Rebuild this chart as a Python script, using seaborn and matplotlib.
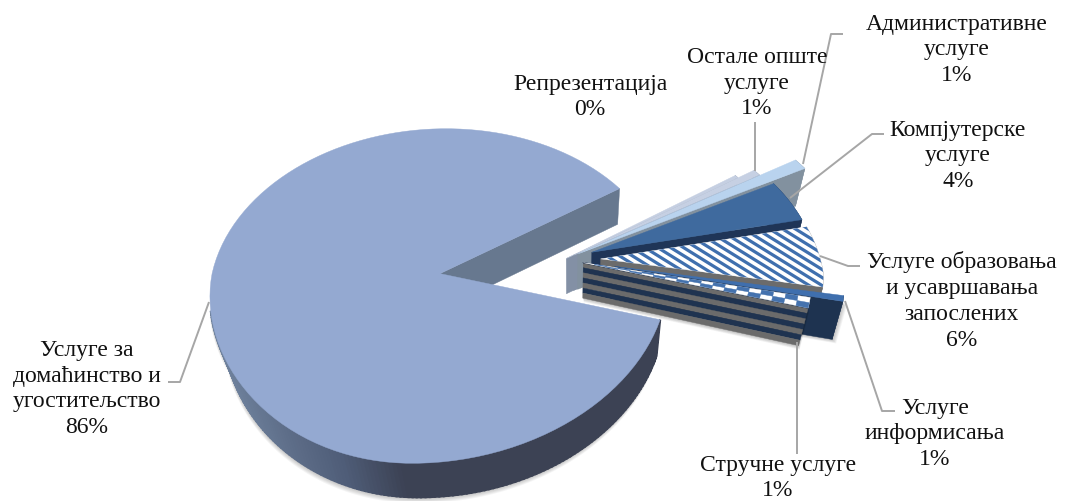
import numpy as np
import matplotlib
matplotlib.use("Agg")
import matplotlib.pyplot as plt
import matplotlib.colors as mc
from matplotlib.patches import Polygon
from matplotlib.collections import LineCollection
import seaborn as sns

# ---- data ----
CATEGORIES = ["Репрезентација", "Остале опште\nуслуге", "Административне\nуслуге",
              "Компјутерске\nуслуге", "Услуге образовања\nи усавршавања\nзапослених",
              "Услуге\nинформисања", "Стручне услуге", "Услуге за\nдомаћинство и\nугоститељство"]
VALUES = [0.3, 0.6, 0.9, 4.2, 6.2, 0.55, 1.0, 86.25]

# ---- style ----
EXPLODE = [0.01, 0.05, 0.07, 0.132, 0.161, 0.225, 0.085, 0.557]
RADIUS_SCALE = [1.0, 1.06, 1.26, 1.0, 0.975, 1.0, 1.0, 1.0]
TOPS = ["#c5cfe2", "#c6d0e3", "#b9d3ee", "#3f6a9e", "#ffffff", "#3f6fae", "#ffffff", "#94a9d1"]
CUTS = ["#8390a5", "#8390a5", "#82919f", "#1f3557", "#6b6b6b", "#1e3350", "#6b6b6b", "#67788f"]
LABEL_POS = [(590, 97), (757, 83), (957, 50), (958, 156), (962, 301), (935, 434), (778, 478), (87, 389)]
LEADERS = [None,
           [(755, 123), (755, 172)],
           [(843, 35), (831, 35), (803, 165)],
           [(884, 135), (872, 135), (790, 199)],
           [(820, 257), (848, 267), (860, 267)],
           [(845, 302), (882, 412), (895, 412)],
           [(797, 343), (797, 455)],
           [(168, 383), (180, 383), (209, 303)]]
X0, Y0, A, B, K = 440.0, 275.0, 228.0, 164.4, 0.134
CENTER = (0.55, 0.09)
DEPTH = 34.0

sns.set_theme(style="white")
plt.rcParams["font.family"] = ["Liberation Serif", "DejaVu Serif"]
fig = plt.figure(figsize=(10.65, 5.02), dpi=100)
ax = fig.add_axes([0, 0, 1, 1])
palette = sns.color_palette(TOPS)

wedges, _ = ax.pie(VALUES, explode=EXPLODE, startangle=33.8, counterclock=False,
                   center=CENTER, radius=1.0)
geometry = [(w.center, w.theta1, w.theta2, w.r * s) for w, s in zip(wedges, RADIUS_SCALE)]
for w in wedges:
    w.remove()
ax.set_aspect("auto")
ax.set_xlim(0, 1065)
ax.set_ylim(502, 0)
ax.axis("off")


def project(px, py):
    px, py = np.asarray(px, float), np.asarray(py, float)
    w = 1 + K * py
    shear = 28 * np.minimum(py, 0) * np.clip(px + 1, 0, 1) + 6 * np.maximum(py, 0)
    return np.column_stack([X0 + A * px / w + shear, Y0 - B * py / w])


def drop(pts):
    pts = np.asarray(pts, float)
    return np.column_stack([pts[:, 0] - (pts[:, 0] - 570) * 0.04,
                            pts[:, 1] + DEPTH + np.maximum(pts[:, 0] - 440, 0) * 0.01])


def rim(c, r, t1, t2, n=120):
    t = np.radians(np.linspace(t1, t2, n))
    return project(c[0] + r * np.cos(t), c[1] + r * np.sin(t))


def apex(c):
    return project([c[0]], [c[1]])


def poly(pts, color, z, lw=0.3):
    p = Polygon(pts, closed=True, facecolor=color, edgecolor=color, linewidth=lw, zorder=z)
    ax.add_patch(p)
    return p


def shadow(pts, z, dx=4, dy=5):
    for i in range(1, 7):
        ax.add_patch(Polygon(np.asarray(pts) + [dx * i / 6, dy * i / 6], closed=True,
                             facecolor="#000000", edgecolor="none", alpha=0.045, zorder=z))


def quad(p):
    return np.vstack([p, drop(p)[::-1]])


def cut_edge(c, r, t):
    return np.vstack([apex(c), rim(c, r, t, t, 2)[0]])


# ---- small slices, back to front, then the large one ----
for i, (c, t1, t2, r) in enumerate(geometry):
    z = 10 + i * 10
    top_col, cut_col = palette[i], CUTS[i]
    arc = rim(c, r, t1, t2)
    top = np.vstack([apex(c), arc])
    lower = cut_edge(c, r, t1)

    if i == 7:  # large slice: gradient on outer wall, plain cut face
        xs = [215, 340, 400, 670]
        cols = np.array([mc.to_rgb(k) for k in ["#71849f", "#4f5d78", "#3c4254", "#3c4254"]])
        t_arc = rim(c, r, t1, t2, 300)
        d_arc = drop(t_arc)
        keep = t_arc[:, 1] > 310
        shadow(np.vstack([t_arc[keep], d_arc[keep][::-1]]), 2, dx=-1, dy=6)
        poly(quad(lower), cut_col, z)
        for k in range(len(t_arc) - 1):
            if t_arc[k, 1] < 310 and t_arc[k, 0] < 500:
                continue
            if t_arc[k, 1] < 300:
                continue
            mx = t_arc[k, 0]
            col = tuple(np.interp(mx, xs, cols[:, j]) for j in range(3))
            poly([t_arc[k], t_arc[k + 1], d_arc[k + 1], d_arc[k]], col, z + 1, lw=1.5)
        poly(top, top_col, z + 3)
        continue

    if i == 6:  # lower cut face in bands, no outer wall
        shadow(quad(lower), z - 1, dx=1, dy=4)
        d_lower = drop(lower)
        bands = ["#6b6b6b", "#1f3350"] * 3 + ["#6b6b6b"]
        for b, col in enumerate(bands):
            f0, f1 = b / len(bands), (b + 1) / len(bands)
            poly(np.vstack([lower + (d_lower - lower) * f0,
                            (lower + (d_lower - lower) * f1)[::-1]]), col, z)
        ax.plot(lower[:, 0], lower[:, 1], color="#1f3350", lw=1.0, zorder=z + 1)
    else:
        if i == 5:
            shadow(quad(lower), z - 1, dx=4, dy=4)
        poly(quad(lower), cut_col, z)
        poly(quad(arc), cut_col, z)

    poly(top, top_col, z + 2)

    if i == 4:  # diagonal stripes on top
        clip = Polygon(top, closed=True, transform=ax.transData)
        ys = np.arange(60, 520, 8.0)
        segs = [[(560, y), (860, y + 300 * 0.62)] for y in ys]
        lc = LineCollection(segs, colors="#3f6fae", linewidths=2.3, zorder=z + 3)
        ax.add_collection(lc)
        lc.set_clip_path(clip)
    if i == 6:  # checker on top
        n = 18
        rs = np.linspace(0.05, r, n + 1)
        tm = (t1 + t2) / 2
        for k in range(n):
            a0, a1 = (t1, tm) if k % 2 else (tm, t2)
            tt = np.radians([a0, a1, a1, a0])
            rr = [rs[k], rs[k], rs[k + 1], rs[k + 1]]
            pts = project(c[0] + np.array(rr) * np.cos(tt), c[1] + np.array(rr) * np.sin(tt))
            poly(pts, "#4472ae", z + 3)

# ---- leaders and labels ----
for i, name in enumerate(CATEGORIES):
    if LEADERS[i] is not None:
        xs, ys = zip(*LEADERS[i])
        ax.plot(xs, ys, color="#a6a6a6", lw=1.4, zorder=120, solid_capstyle="butt")
    x, y = LABEL_POS[i]
    ax.text(x, y, f"{name}\n{round(VALUES[i])}%", ha="center", va="center", fontsize=17,
            color="#111111", linespacing=1.31, zorder=130)

fig.savefig("out.png", dpi=100, facecolor="white")
